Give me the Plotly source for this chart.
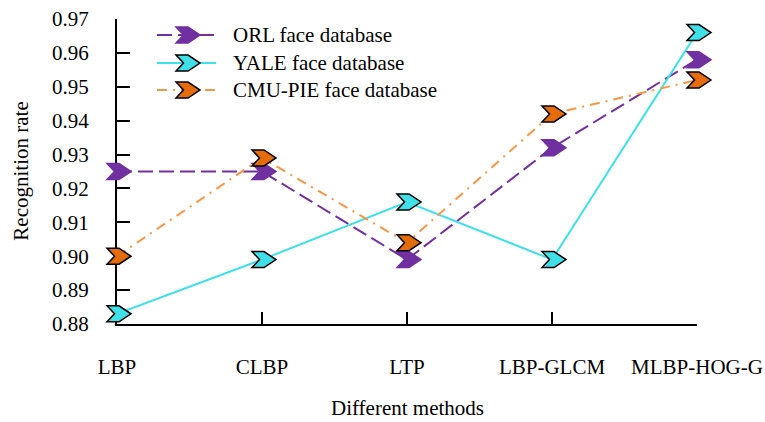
import plotly.graph_objects as go

# Recognition rates of each method on three face databases
methods = ["LBP", "CLBP", "LTP", "LBP-GLCM", "MLBP-HOG-G"]
orl_rate = [0.925, 0.925, 0.899, 0.932, 0.958]
yale_rate = [0.883, 0.899, 0.916, 0.899, 0.966]
cmu_pie_rate = [0.900, 0.929, 0.904, 0.942, 0.952]
y_ticks = [0.88, 0.89, 0.90, 0.91, 0.92, 0.93, 0.94, 0.95, 0.96, 0.97]

series = [
    dict(name="ORL face database", values=orl_rate, line="#7030A0",
         fill="#7030A0", edge="#7030A0", dash="15px,6px", width=2),
    dict(name="YALE face database", values=yale_rate, line="#40E0E8",
         fill="#40E0E8", edge="#000000", dash="solid", width=2),
    dict(name="CMU-PIE face database", values=cmu_pie_rate, line="#F79646",
         fill="#E46C0A", edge="#000000", dash="10px,6px,2px,6px", width=2),
]

FONT = "Liberation Serif"
FS = 21
# chevron marker outline, in pixels around its anchor
CHEVRON = "M-10,-8 L2,-8 L14,0 L2,8 L-10,8 L-2.5,0 Z"

fig = go.Figure()
shapes = []
annotations = []
n = len(methods)
xs = list(range(n))

for s in series:
    fig.add_trace(go.Scatter(
        x=xs, y=s["values"], mode="lines", name=s["name"], showlegend=False,
        line=dict(color=s["line"], width=s["width"], dash=s["dash"]),
        cliponaxis=False,
    ))
    # chevron markers, placed on the x domain so they are not cut at the axis ends
    for i, v in enumerate(s["values"]):
        shapes.append(dict(
            type="path", path=CHEVRON, xref="x domain", yref="y",
            xsizemode="pixel", ysizemode="pixel",
            xanchor=i / (n - 1), yanchor=v,
            fillcolor=s["fill"], line=dict(color=s["edge"], width=1.5),
            layer="above",
        ))

# legend block: sample line, chevron and label for each series
legend_rows = [0.9475, 0.8557, 0.7672]
for s, yr in zip(series, legend_rows):
    shapes.append(dict(
        type="line", xref="paper", yref="paper", x0=0.069, x1=0.171, y0=yr, y1=yr,
        line=dict(color=s["line"], width=s["width"], dash=s["dash"]), layer="above",
    ))
    shapes.append(dict(
        type="path", path=CHEVRON, xref="paper", yref="paper",
        xsizemode="pixel", ysizemode="pixel", xanchor=0.119, yanchor=yr,
        fillcolor=s["fill"], line=dict(color=s["edge"], width=1.5), layer="above",
    ))
    annotations.append(dict(
        text=s["name"], xref="paper", yref="paper", x=0.1966, y=yr,
        xanchor="left", yanchor="middle", showarrow=False,
        font=dict(family=FONT, size=FS, color="#000000"),
    ))

# axis titles
annotations.append(dict(
    text="Different methods", xref="paper", yref="paper", x=0.5, y=-0.275,
    xanchor="center", yanchor="middle", showarrow=False,
    font=dict(family=FONT, size=FS, color="#000000"),
))
annotations.append(dict(
    text="Recognition rate", xref="paper", yref="paper", x=-0.167, y=0.5,
    xanchor="center", yanchor="middle", showarrow=False, textangle=-90,
    font=dict(family=FONT, size=FS, color="#000000"),
))

fig.update_layout(
    width=765, height=422,
    margin=dict(l=117, r=68, t=19, b=98),
    paper_bgcolor="white", plot_bgcolor="white",
    font=dict(family=FONT, size=FS, color="#000000"),
    showlegend=False,
    shapes=shapes, annotations=annotations,
    xaxis=dict(
        range=[0, n - 1], tickvals=xs, ticktext=methods, automargin=False,
        showline=True, linecolor="#000000", linewidth=2,
        ticks="inside", ticklen=12, tickwidth=1.5, tickcolor="#000000",
        showgrid=False, zeroline=False, ticklabelstandoff=23,
        tickfont=dict(family=FONT, size=FS),
    ),
    yaxis=dict(
        range=[y_ticks[0], y_ticks[-1]], tickvals=y_ticks, tickformat=".2f",
        automargin=False,
        showline=True, linecolor="#000000", linewidth=2,
        ticks="inside", ticklen=13, tickwidth=1.5, tickcolor="#000000",
        showgrid=False, zeroline=False, ticklabelstandoff=22,
        tickfont=dict(family=FONT, size=FS),
    ),
)

fig.write_html("out.html")
